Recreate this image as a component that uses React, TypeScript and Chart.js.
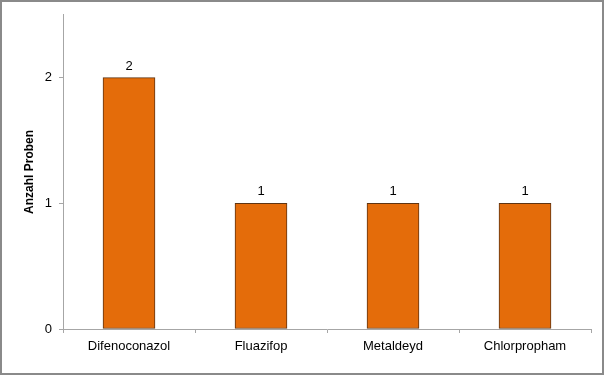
import React, { useEffect, useRef } from "react";
import { Chart, registerables } from "chart.js";

Chart.register(...registerables);

const categories = ["Difenoconazol", "Fluazifop", "Metaldeyd", "Chlorpropham"];
const values = [2, 1, 1, 1];
const yTitle = "Anzahl Proben";

const FONT = "'Liberation Sans', Arial, sans-serif";

export default function App() {
  const ref = useRef<HTMLCanvasElement | null>(null);
  useEffect(() => {
    if (!ref.current) return;
    const borderPlugin = {
      id: "outerBorder",
      afterDraw(chart: any) {
        const ctx = chart.ctx;
        ctx.save();
        ctx.strokeStyle = "#8a8a8a";
        ctx.lineWidth = 2;
        ctx.strokeRect(1, 1, 602, 373);
        const area = chart.chartArea;
        ctx.translate(30, (area.top + area.bottom) / 2);
        ctx.rotate(-Math.PI / 2);
        ctx.font = `bold 12px ${FONT}`;
        ctx.fillStyle = "#000";
        ctx.textAlign = "center";
        ctx.textBaseline = "middle";
        ctx.fillText(yTitle, 0, 0);
        ctx.restore();
      },
    };
    const labelPlugin = {
      id: "valueLabels",
      afterDatasetsDraw(chart: any) {
        const ctx = chart.ctx;
        const meta = chart.getDatasetMeta(0);
        ctx.save();
        ctx.font = `13px ${FONT}`;
        ctx.fillStyle = "#000";
        ctx.textAlign = "center";
        ctx.textBaseline = "bottom";
        meta.data.forEach((bar: any, i: number) => {
          ctx.fillText(String(values[i]), bar.x, bar.y - 5);
        });
        ctx.restore();
      },
    };
    const chart = new Chart(ref.current, {
      type: "bar",
      data: {
        labels: categories,
        datasets: [
          {
            data: values,
            backgroundColor: "#E46C0A",
            borderColor: "#5e3412",
            borderWidth: 1,
            borderSkipped: false,
            barThickness: 52,
          },
        ],
      },
      options: {
        animation: false,
        responsive: false,
        layout: { padding: { left: 0, top: 14, right: 15, bottom: 0 } },
        plugins: { legend: { display: false }, tooltip: { enabled: false } },
        scales: {
          x: {
            offset: true,
            grid: {
              offset: true,
              drawOnChartArea: false,
              drawTicks: true,
              tickLength: 4,
              color: "#a6a6a6",
            },
            border: { color: "#a6a6a6", width: 1 },
            ticks: { color: "#000", font: { family: FONT, size: 13 }, padding: 6, maxRotation: 0 },
            afterFit(scale: any) {
              scale.height = 48;
            },
          },
          y: {
            min: 0,
            max: 2.5,
            afterBuildTicks(scale: any) {
              scale.ticks = [{ value: 0 }, { value: 1 }, { value: 2 }];
            },
            grid: {
              drawOnChartArea: false,
              drawTicks: true,
              tickLength: 4,
              color: "#a6a6a6",
            },
            border: { color: "#a6a6a6", width: 1 },
            ticks: { color: "#000", font: { family: FONT, size: 13 }, padding: 7 },
            afterFit(scale: any) {
              scale.width = 63;
            },
          },
        },
      },
      plugins: [borderPlugin, labelPlugin],
    });
    return () => chart.destroy();
  }, []);
  return (
    <div style={{ position: "fixed", left: 0, top: 0, width: 606, height: 377, background: "#fff" }}>
      <canvas ref={ref} width={606} height={377} style={{ display: "block" }} />
    </div>
  );
}
